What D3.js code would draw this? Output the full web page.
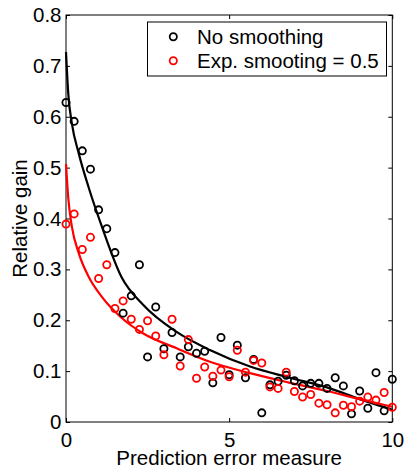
<!DOCTYPE html>
<html>
<head>
<meta charset="utf-8">
<script src="https://cdn.jsdelivr.net/npm/d3@7"></script>
<style>
  html, body { margin: 0; padding: 0; background: white; }
  svg { display: block; }
</style>
</head>
<body>
<div id="chart"></div>
<script>
const errorMeasure = [0, 0.25, 0.5, 0.75, 1, 1.25, 1.5, 1.75, 2, 2.25, 2.5, 2.75, 3, 3.25, 3.5, 3.75,
  4, 4.25, 4.5, 4.75, 5, 5.25, 5.5, 5.75, 6, 6.25, 6.5, 6.75, 7, 7.25, 7.5, 7.75,
  8, 8.25, 8.5, 8.75, 9, 9.25, 9.5, 9.75, 10];

const noSmoothing = [0.628, 0.591, 0.533, 0.497, 0.417, 0.380, 0.333, 0.214, 0.248, 0.309, 0.128,
  0.226, 0.144, 0.176, 0.128, 0.148, 0.135, 0.139, 0.077, 0.166, 0.093, 0.151, 0.087, 0.123,
  0.018, 0.073, 0.080, 0.092, 0.081, 0.071, 0.076, 0.076, 0.066, 0.087, 0.071, 0.016, 0.061,
  0.027, 0.097, 0.022, 0.084];

const expSmoothing = [0.389, 0.409, 0.339, 0.363, 0.282, 0.309, 0.223, 0.238, 0.202, 0.182, 0.199,
  0.169, 0.132, 0.202, 0.110, 0.162, 0.086, 0.108, 0.090, 0.102, 0.089, 0.141, 0.098, 0.121,
  0.116, 0.069, 0.066, 0.098, 0.060, 0.049, 0.054, 0.037, 0.034, 0.018, 0.033, 0.030, 0.041,
  0.049, 0.043, 0.058, 0.029];

// fitted curves
const fitX = [0, 0.07, 0.18, 0.39, 0.69, 1.1, 1.7, 2.37, 3.39, 4.41, 5.64, 6.8, 8, 9, 10];
const fitNoSmoothing = [0.727, 0.645, 0.587, 0.528, 0.462, 0.384, 0.285, 0.230, 0.177, 0.1415,
  0.109, 0.088, 0.068, 0.045, 0.024];
const fitExpSmoothing = [0.507, 0.44, 0.384, 0.332, 0.286, 0.246, 0.205, 0.174, 0.145, 0.1185,
  0.096, 0.078, 0.061, 0.045, 0.030];

const xTicks = [0, 5, 10];
const yTicks = [0, 0.1, 0.2, 0.3, 0.4, 0.5, 0.6, 0.7, 0.8];
const legendLabels = ['No smoothing', 'Exp. smooting = 0.5'];

const width = 405;
const height = 470;
const fontFamily = '"Liberation Sans", Arial, Helvetica, sans-serif';
const fontSize = '20.5px';
const tickLength = 4;
const markerRadius = 3.6;
const seriesColors = ['#000000', '#ff0000'];

const plot = {left: 66, right: 392.3, top: 15, bottom: 422};

const svg = d3.select('#chart')
  .append('svg')
  .attr('width', width)
  .attr('height', height)
  .style('font-family', fontFamily)
  .style('font-size', fontSize);

const xScale = d3.scaleLinear().domain([0, 10]).range([plot.left, plot.right]);
const yScale = d3.scaleLinear().domain([0, 0.8]).range([plot.bottom, plot.top]);

/* axes: inward ticks on all four sides, like a boxed matlab plot */
const xAxis = svg.append('g')
  .attr('transform', `translate(0, ${plot.bottom})`)
  .call(d3.axisBottom(xScale).tickValues(xTicks).tickSizeInner(-tickLength).tickSizeOuter(0).tickPadding(10).tickFormat(d3.format('d')));
const xAxisTop = svg.append('g')
  .attr('transform', `translate(0, ${plot.top})`)
  .call(d3.axisTop(xScale).tickValues(xTicks).tickSizeInner(-tickLength).tickSizeOuter(0).tickFormat(''));
const yAxis = svg.append('g')
  .attr('transform', `translate(${plot.left}, 0)`)
  .call(d3.axisLeft(yScale).tickValues(yTicks).tickSizeInner(-tickLength).tickSizeOuter(0).tickPadding(4.5)
    .tickFormat(d => d === 0 ? '0' : d3.format('.1f')(d)));
const yAxisRight = svg.append('g')
  .attr('transform', `translate(${plot.right}, 0)`)
  .call(d3.axisRight(yScale).tickValues(yTicks).tickSizeInner(-tickLength).tickSizeOuter(0).tickFormat(''));

[xAxis, xAxisTop, yAxis, yAxisRight].forEach(ax => {
  ax.select('.domain').remove();
  ax.selectAll('line').attr('stroke', '#000').attr('stroke-width', 1);
  ax.selectAll('text')
    .attr('fill', '#000')
    .style('font-family', fontFamily)
    .style('font-size', fontSize);
});
xAxis.selectAll('text').attr('dy', '0.71em');

svg.append('rect')
  .attr('x', plot.left)
  .attr('y', plot.top)
  .attr('width', plot.right - plot.left)
  .attr('height', plot.bottom - plot.top)
  .attr('fill', 'none')
  .attr('stroke', '#000')
  .attr('stroke-width', 1);

/* fitted curves */
const fitLine = d3.line()
  .x(d => xScale(d[0]))
  .y(d => yScale(d[1]))
  .curve(d3.curveMonotoneX);

[fitNoSmoothing, fitExpSmoothing].forEach((fit, i) => {
  svg.append('path')
    .datum(fitX.map((x, j) => [x, fit[j]]))
    .attr('fill', 'none')
    .attr('stroke', seriesColors[i])
    .attr('stroke-width', 2.2)
    .attr('d', fitLine);
});

/* markers */
[noSmoothing, expSmoothing].forEach((values, i) => {
  svg.append('g')
    .selectAll('circle')
    .data(values)
    .join('circle')
    .attr('cx', (d, j) => xScale(errorMeasure[j]))
    .attr('cy', d => yScale(d))
    .attr('r', markerRadius)
    .attr('fill', 'none')
    .attr('stroke', seriesColors[i])
    .attr('stroke-width', 1.8);
});

/* legend */
const legend = svg.append('g');
legend.append('rect')
  .attr('x', 147.5)
  .attr('y', 22)
  .attr('width', 239)
  .attr('height', 54)
  .attr('fill', 'white')
  .attr('stroke', '#000')
  .attr('stroke-width', 1);

legendLabels.forEach((label, i) => {
  const cy = 36.7 + i * 24;
  legend.append('circle')
    .attr('cx', 173.3)
    .attr('cy', cy)
    .attr('r', markerRadius)
    .attr('fill', 'none')
    .attr('stroke', seriesColors[i])
    .attr('stroke-width', 1.8);
  legend.append('text')
    .attr('x', 197)
    .attr('y', cy + 6.8)
    .attr('fill', '#000')
    .text(label);
});

/* axis titles */
svg.append('text')
  .attr('x', (plot.left + plot.right) / 2)
  .attr('y', 465)
  .attr('text-anchor', 'middle')
  .attr('fill', '#000')
  .text('Prediction error measure');

svg.append('text')
  .attr('transform', `translate(27, ${(plot.top + plot.bottom) / 2}) rotate(-90)`)
  .attr('text-anchor', 'middle')
  .attr('fill', '#000')
  .text('Relative gain');
</script>
</body>
</html>
